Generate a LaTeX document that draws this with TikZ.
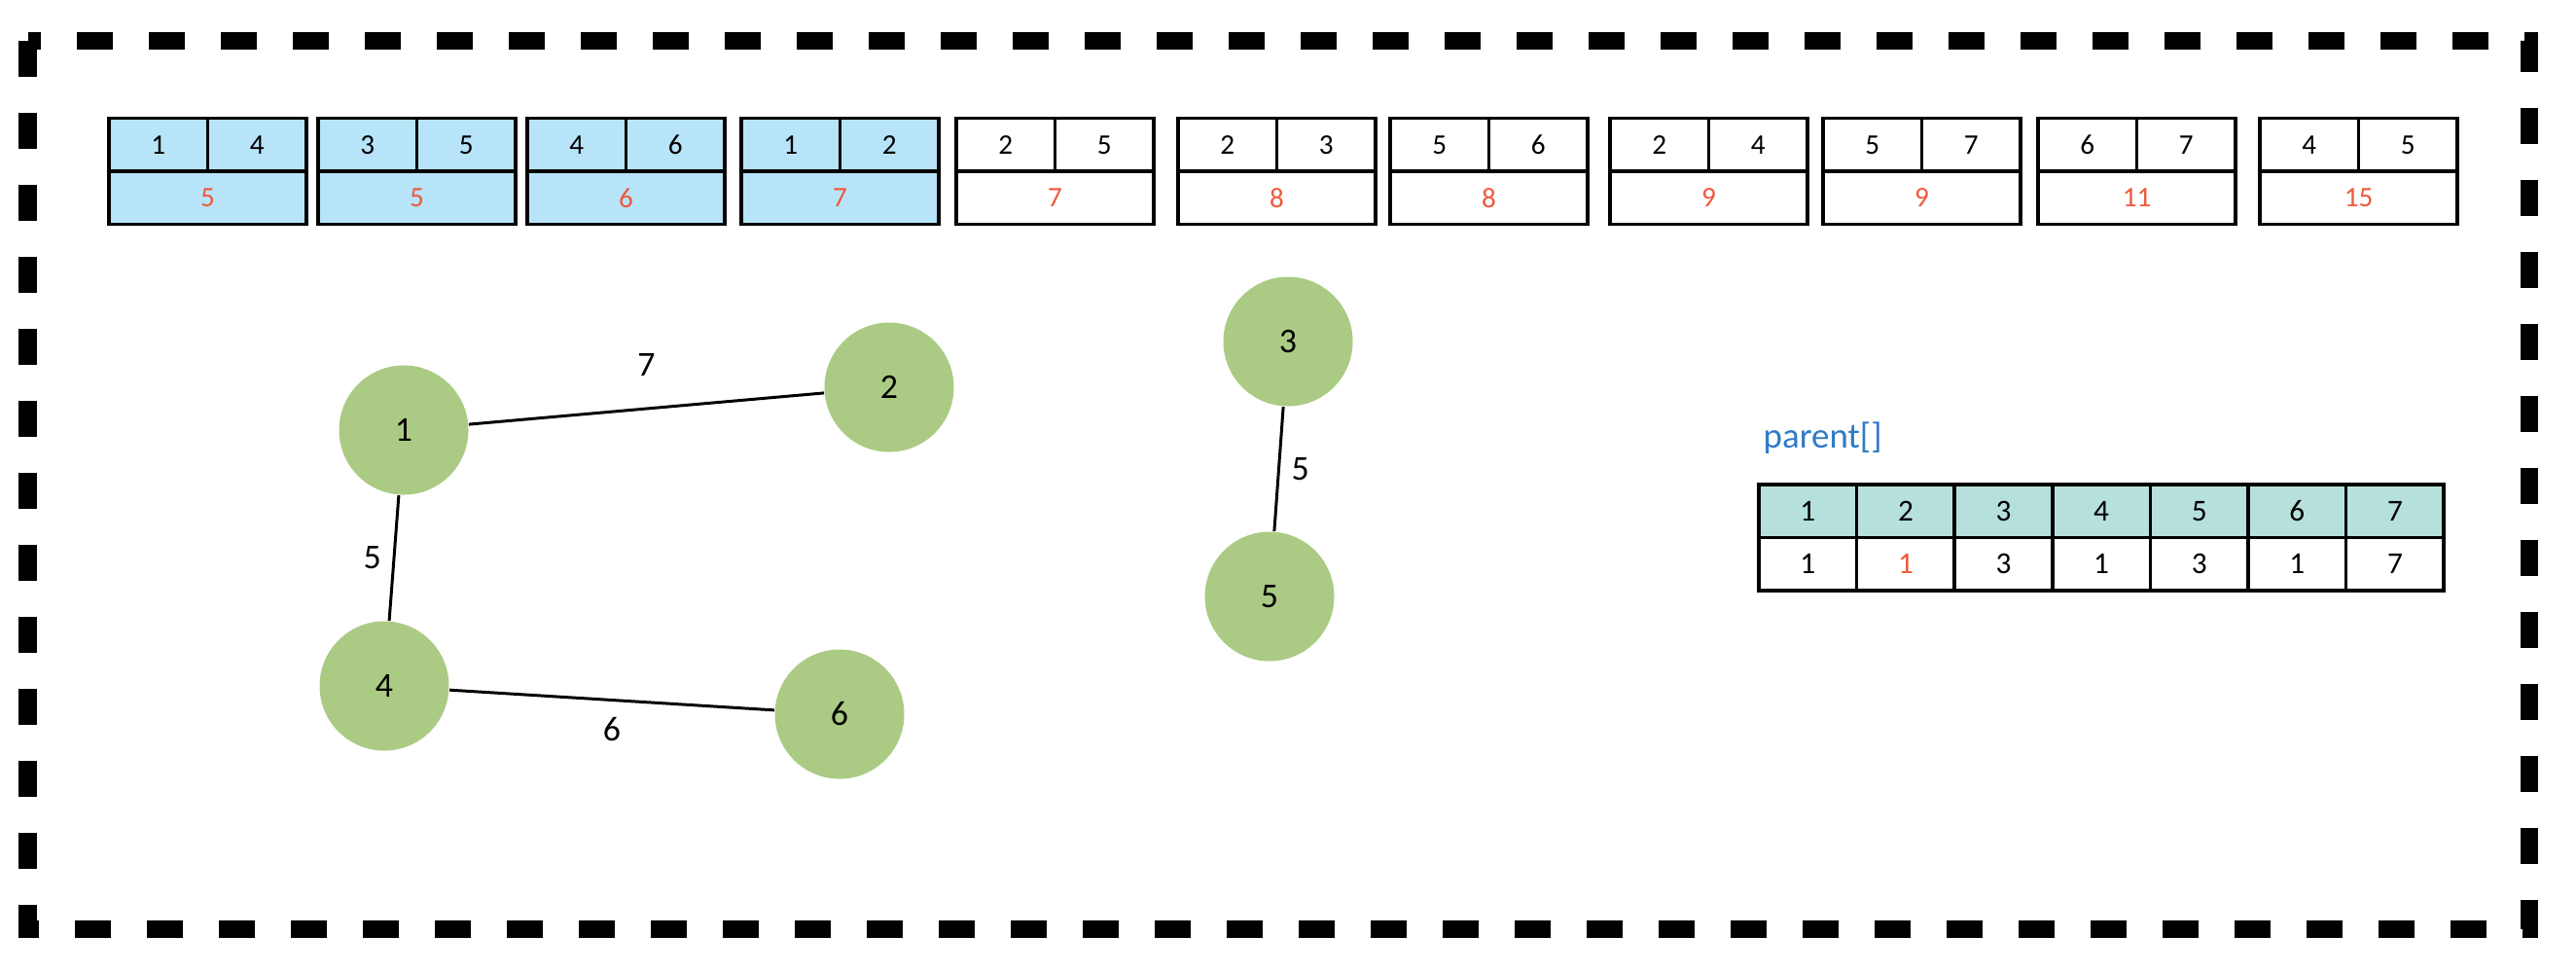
\documentclass[tikz,border=0pt]{standalone}
\usepackage{fontspec}
\setmainfont{Carlito}
\usepackage{tikz}
\usetikzlibrary{positioning}

\definecolor{cardblue}{HTML}{B8E4FA}
\definecolor{edgered}{HTML}{EE5A3C}
\definecolor{vertgreen}{HTML}{ABCB84}
\definecolor{headteal}{HTML}{B5E0DB}
\definecolor{titleblue}{HTML}{2E7BC6}

\tikzset{
  vert/.style={shape=circle,fill=vertgreen,minimum size=1.33cm,inner sep=0pt,
    font=\fontsize{10.2}{12}\selectfont},
  wlabel/.style={font=\fontsize{10.2}{12}\selectfont},
  cell/.style={draw=black,line width=0.9pt,minimum height=0.545cm,inner sep=0pt,outer sep=0pt,
    anchor=north west,font=\fontsize{8.3}{9}\selectfont},
  halfcell/.style={cell,minimum width=1.015cm},
  fullcell/.style={cell,minimum width=2.03cm,text=edgered},
  tabcell/.style={draw=black,line width=1pt,minimum width=1.006cm,minimum height=0.545cm,
    inner sep=0pt,outer sep=0pt,anchor=north west,font=\fontsize{8.9}{10}\selectfont},
}

\begin{document}
\begin{tikzpicture}[x=1cm,y=-1cm]
  \useasboundingbox (0,0) rectangle (26.48,9.98);

  % dashed frame
  \draw[line width=0.185cm,dash pattern=on 0.37cm off 0.37cm] (0.285,0.42) rectangle (26.00,9.55);

  % sorted edges
  \foreach \x/\u/\v/\w/\f [count=\i] in {
      1.12/1/4/5/cardblue, 3.27/3/5/5/cardblue, 5.42/4/6/6/cardblue, 7.62/1/2/7/cardblue,
      9.83/2/5/7/white, 12.11/2/3/8/white, 14.29/5/6/8/white, 16.55/2/4/9/white,
      18.74/5/7/9/white, 20.95/6/7/11/white, 23.23/4/5/15/white} {
    \node[halfcell,fill=\f] (u\i) at (\x,1.215) {\u};
    \node[halfcell,fill=\f] (v\i) at (u\i.north east) {\v};
    \node[fullcell,fill=\f] (w\i) at (u\i.south west) {\w};
  }

  % vertices
  \node[vert] (n1) at (4.15,4.42) {1};
  \node[vert] (n2) at (9.14,3.98) {2};
  \node[vert] (n3) at (13.24,3.51) {3};
  \node[vert] (n4) at (3.95,7.05) {4};
  \node[vert] (n5) at (13.05,6.13) {5};
  \node[vert] (n6) at (8.63,7.34) {6};

  \draw[line width=0.85pt] (n1) to node[wlabel,above=2mm] {7} (n2);
  \draw[line width=0.85pt] (n1) to node[wlabel,left=0pt] {5} (n4);
  \draw[line width=0.85pt] (n4) to node[wlabel,below=0.5mm] {6} (n6);
  \draw[line width=0.85pt] (n3) to node[wlabel,right=0pt] {5} (n5);

  % parent array
  \node[anchor=base west,inner sep=0pt,text=titleblue,font=\fontsize{10.5}{12}\selectfont]
    (title) at (18.12,4.60) {parent[]};
  \foreach \p/\c [count=\i] in {1/black,1/edgered,3/black,1/black,3/black,1/black,7/black} {
    \node[tabcell,fill=headteal] (h\i) at ({18.08+(\i-1)*1.006},4.98) {\i};
    \node[tabcell,text=\c] (p\i) at (h\i.south west) {\p};
  }
\end{tikzpicture}
\end{document}
